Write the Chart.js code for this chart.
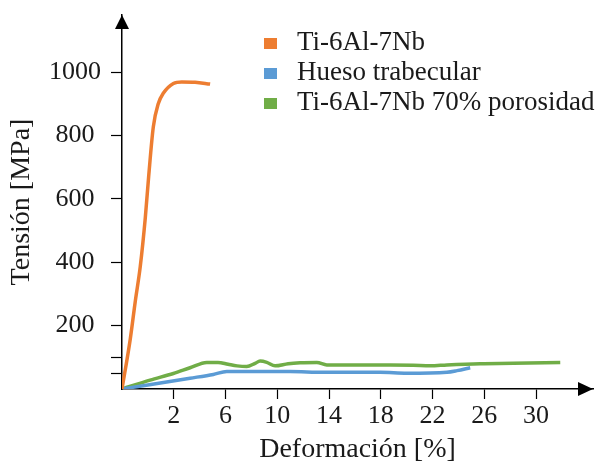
<!DOCTYPE html>
<html lang="es">
<head>
<meta charset="UTF-8">
<title>Tensión - Deformación</title>
<style>
  html, body { margin: 0; padding: 0; background: #fff; }
  #chart { display: block; }
</style>
</head>
<body>
<canvas id="chart" width="609" height="461"></canvas>
<script src="https://cdn.jsdelivr.net/npm/chart.js"></script>
<script>
const seriesNames = ['Ti-6Al-7Nb', 'Hueso trabecular', 'Ti-6Al-7Nb 70% porosidad'];
const seriesColors = ['#ED7D31', '#5B9BD5', '#70AD47'];

// deformación [%] vs tensión [MPa]
// (the axis origin sits at -2, first labelled tick is 2)
const tiStrain = [-2, -1.36, -0.97, -0.59, -0.2, 0.06, 0.42, 0.81, 1.19, 1.97, 2.62, 3.65, 4.81];
const tiStress = [0, 158, 278, 386, 540, 670, 827, 901, 933, 964, 969, 968, 962];

const boneStrain = [-2, 3.26, 5.06, 6.10, 10.99, 13.57, 17.95, 20.02, 23.11, 23.89, 24.91];
const boneStress = [0, 34, 46, 55, 55, 53, 53, 50, 53, 58, 67];

const poroStrain = [-2, 0.17, 1.97, 3.26, 4.55, 5.42, 6.20, 6.89, 7.64, 8.29, 8.67, 9.19, 9.83, 10.84, 11.77, 13.06, 13.83, 16.15, 18.73, 20.51, 21.82, 23.11, 25.69, 28.24, 31.87];
const poroStress = [0, 28, 49, 67, 84, 84, 78, 73, 71, 81, 88, 84, 73, 80, 83, 84, 76, 76, 76, 75, 73, 76, 80, 81, 84];

const strainTicks = [2, 6, 10, 14, 18, 22, 26, 30];
const stressTicks = [50, 100, 200, 400, 600, 800, 1000];
const labelledStress = [200, 400, 600, 800, 1000];

const serif = 'Liberation Serif, Times New Roman, serif';
const ink = '#1a1a1a';

function toPoints(xs, ys) {
  return xs.map((x, i) => ({ x: x, y: ys[i] }));
}

// axis arrowheads + legend box placed inside the plot like the original
const decorations = {
  id: 'decorations',
  afterDraw(chart) {
    const { ctx, chartArea } = chart;
    const { left, top, right, bottom } = chartArea;
    ctx.save();
    ctx.fillStyle = '#000';
    // y arrow
    ctx.beginPath();
    ctx.moveTo(left, top);
    ctx.lineTo(left - 7, top + 14);
    ctx.lineTo(left + 7, top + 14);
    ctx.closePath();
    ctx.fill();
    // x arrow
    ctx.beginPath();
    ctx.moveTo(right, bottom);
    ctx.lineTo(right - 15, bottom - 7);
    ctx.lineTo(right - 15, bottom + 7);
    ctx.closePath();
    ctx.fill();

    // legend
    ctx.font = '27px ' + serif;
    ctx.textBaseline = 'alphabetic';
    ctx.textAlign = 'left';
    chart.data.datasets.forEach((ds, i) => {
      const baseY = 50 + i * 30;
      ctx.fillStyle = ds.borderColor;
      ctx.fillRect(264, baseY - 12, 13, 11);
      ctx.fillStyle = ink;
      ctx.fillText(ds.label, 297, baseY);
    });
    ctx.restore();
  }
};

const datasets = [
  { label: seriesNames[0], data: toPoints(tiStrain, tiStress) },
  { label: seriesNames[1], data: toPoints(boneStrain, boneStress) },
  { label: seriesNames[2], data: toPoints(poroStrain, poroStress) }
].map((ds, i) => Object.assign(ds, {
  borderColor: seriesColors[i],
  backgroundColor: seriesColors[i],
  borderWidth: 3.5,
  pointRadius: 0,
  fill: false,
  cubicInterpolationMode: 'monotone'
}));

new Chart(document.getElementById('chart'), {
  type: 'line',
  data: { datasets: datasets },
  options: {
    responsive: false,
    animation: false,
    layout: { padding: { left: 0, top: 15, right: 16, bottom: 0 } },
    plugins: {
      legend: { display: false },
      tooltip: { enabled: false }
    },
    scales: {
      x: {
        type: 'linear',
        min: -2,
        max: 34.4,
        afterBuildTicks: (scale) => { scale.ticks = strainTicks.map(v => ({ value: v })); },
        afterFit: (scale) => {
          scale.height = 72;
          scale.paddingLeft = 0;
          scale.paddingRight = 0;
        },
        border: { color: '#000', width: 1.5 },
        grid: { drawOnChartArea: false, tickLength: 10, tickColor: '#000', tickWidth: 1.2 },
        ticks: { color: ink, font: { family: serif, size: 26 }, padding: 2, maxRotation: 0, autoSkip: false },
        title: {
          display: true,
          text: 'Deformación [%]',
          color: ink,
          font: { family: serif, size: 28 },
          padding: { top: 0, bottom: -5 }
        }
      },
      y: {
        min: 0,
        max: 1180,
        afterBuildTicks: (scale) => { scale.ticks = stressTicks.map(v => ({ value: v })); },
        afterFit: (scale) => {
          scale.width = 122;
          scale.paddingTop = 0;
          scale.paddingBottom = 0;
        },
        border: { color: '#000', width: 1.5 },
        grid: { drawOnChartArea: false, tickLength: 11, tickColor: '#000', tickWidth: 1.2 },
        ticks: {
          color: ink,
          font: { family: serif, size: 26 },
          padding: 10,
          crossAlign: 'center',
          callback: (v) => labelledStress.includes(v) ? String(v) : ''
        },
        title: {
          display: true,
          text: 'Tensión [MPa]',
          color: ink,
          font: { family: serif, size: 28 },
          padding: { top: 5, bottom: 0 }
        }
      }
    }
  },
  plugins: [decorations]
});
</script>
</body>
</html>
